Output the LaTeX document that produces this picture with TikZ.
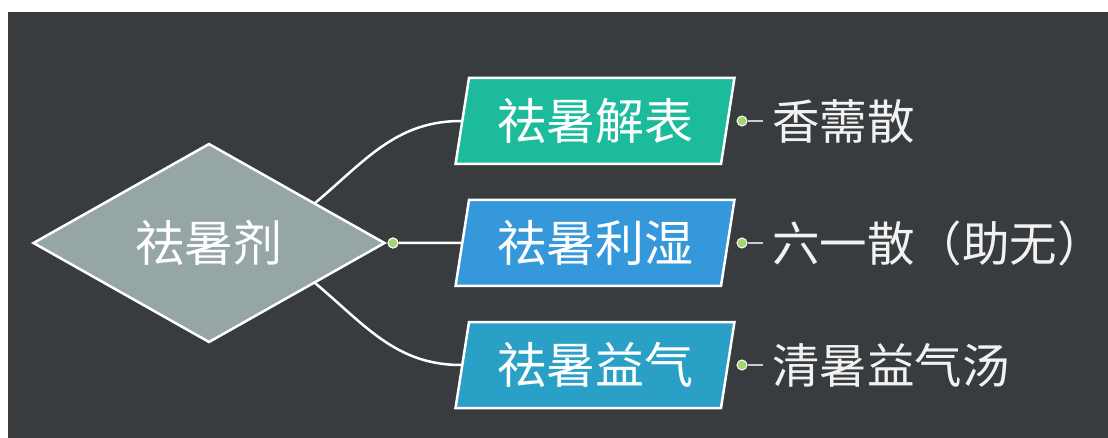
\documentclass[tikz,border=0pt]{standalone}
\usepackage{fontspec}
\newfontfamily\cjk{Noto Sans CJK SC}
\usetikzlibrary{shapes.geometric,calc}
\definecolor{boardbg}{RGB}{56,60,63}
\definecolor{rootgray}{RGB}{150,165,166}
\definecolor{jiebiaogreen}{RGB}{28,187,155}
\definecolor{lishiblue}{RGB}{52,152,219}
\definecolor{yiqiteal}{RGB}{42,160,198}
\definecolor{knobgreen}{RGB}{165,212,110}

\begin{document}
\begin{tikzpicture}[x=1pt,y=-1pt,
    every node/.style={font=\cjk\fontsize{49}{52}\selectfont, text=white},
    topic/.style={diamond, draw=white, line width=2.5pt, fill=rootgray,
      minimum width=352pt, minimum height=199pt, inner sep=0pt},
    subtopic/.style={trapezium, trapezium left angle=77, trapezium right angle=103,
      trapezium stretches=true, draw=white, line width=2.5pt,
      minimum width=279pt, minimum height=86pt, inner sep=0pt},
    knob/.style={circle, fill=knobgreen, draw=white, line width=1pt,
      minimum size=10pt, inner sep=0pt},
    leaf/.style={anchor=west, inner sep=0pt, text=white!95!black,
      font=\cjk\fontsize{47.5}{50}\selectfont},
    branch/.style={draw=white, line width=2.5pt},
    twig/.style={draw=white!80!black, line width=1.2pt}
  ]
  \useasboundingbox (0,0) rectangle (1108,438);
  \fill[white] (0,0) rectangle (1108,438);
  \fill[boardbg] (8,12) rectangle (1108,438);

  % main topic
  \node[topic] (root) at (209,243) {祛暑剂};
  \node[knob] (rknob) at (393,243) {};

  % sub topics
  \node[subtopic, fill=jiebiaogreen] (jiebiao) at (595,121) {祛暑解表};
  \node[subtopic, fill=lishiblue] (lishi) at (595,243) {祛暑利湿};
  \node[subtopic, fill=yiqiteal] (yiqi) at (595,365) {祛暑益气};

  \draw[branch] ($(root.north)!0.6!(root.east)$) to[out=40,in=180] (jiebiao.west);
  \draw[branch] (rknob) -- (lishi.west);
  \draw[branch] ($(root.south)!0.6!(root.east)$) to[out=-40,in=180] (yiqi.west);
  \node[knob] at (rknob) {};

  % formulas
  \foreach \y/\name/\txt in {121/xiangru/香薷散, 243/liuyi/六一散（助无）, 365/qingshu/清暑益气汤} {
    \node[knob] (\name-knob) at (742,\y) {};
    \coordinate (\name-end) at (763,\y);
    \draw[twig] (\name-knob) -- (\name-end);
    \node[leaf] (\name) at (772,\y) {\txt};
  }
\end{tikzpicture}
\end{document}
